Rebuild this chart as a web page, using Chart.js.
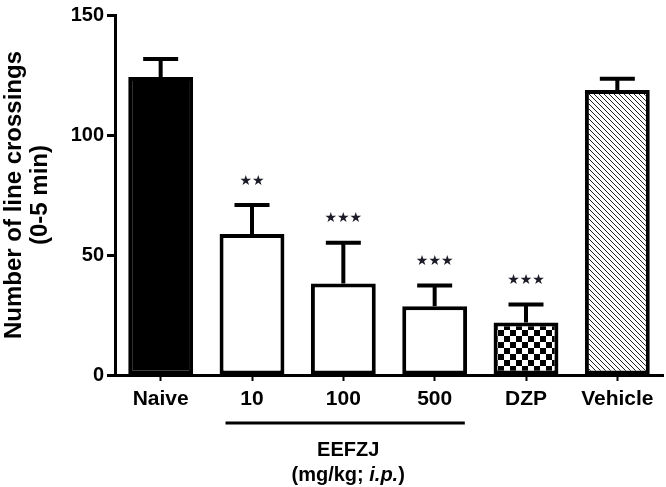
<!DOCTYPE html>
<html>
<head>
<meta charset="utf-8">
<script src="https://cdn.jsdelivr.net/npm/chart.js@4"></script>
<style>
  body { margin: 0; background: #fff; }
  canvas { display: block; }
</style>
</head>
<body>
<canvas id="crossingsChart" width="666" height="487"></canvas>
<script>
const categories = ["Naive", "10", "100", "500", "DZP", "Vehicle"];
const means = [124.2, 58.8, 38.1, 28.6, 21.9, 118.8];
const sem = [7.5, 12.0, 17.0, 8.7, 7.5, 4.6];
const stars = ["", "★★", "★★★", "★★★", "★★★", ""];
const yTicks = [0, 50, 100, 150];

const FONT = '"Liberation Sans", Arial, sans-serif';

// fill patterns for DZP (checkerboard) and Vehicle (hatched)
function checkerPattern() {
    const c = document.createElement('canvas');
    c.width = 12; c.height = 12;
    const g = c.getContext('2d');
    g.fillStyle = '#fff';
    g.fillRect(0, 0, 12, 12);
    g.fillStyle = '#000';
    g.fillRect(0, 0, 6, 6);
    g.fillRect(6, 6, 6, 6);
    return g.createPattern(c, 'repeat');
}
function hatchPattern() {
    const c = document.createElement('canvas');
    c.width = 5; c.height = 5;
    const g = c.getContext('2d');
    g.fillStyle = '#fff';
    g.fillRect(0, 0, 5, 5);
    g.strokeStyle = '#222';
    g.lineWidth = 1;
    g.beginPath();
    g.moveTo(-1, -1); g.lineTo(6, 6);
    g.moveTo(-1, 4); g.lineTo(1, 6);
    g.moveTo(4, -1); g.lineTo(6, 1);
    g.stroke();
    return g.createPattern(c, 'repeat');
}
const fills = ['#000', '#fff', '#fff', '#fff', checkerPattern(), hatchPattern()];

const extras = {
    id: 'extras',
    afterDatasetsDraw(chart) {
        const ctx = chart.ctx;
        const x = chart.scales.x, y = chart.scales.y;
        ctx.save();
        ctx.strokeStyle = '#000';
        ctx.lineWidth = 4;
        ctx.lineCap = 'butt';
        means.forEach((m, i) => {
            const cx = x.getPixelForValue(i);
            const top = y.getPixelForValue(m);
            const err = y.getPixelForValue(m + sem[i]);
            ctx.beginPath();
            ctx.moveTo(cx, top);
            ctx.lineTo(cx, err);
            ctx.moveTo(cx - 17.5, err);
            ctx.lineTo(cx + 17.5, err);
            ctx.stroke();
            if (stars[i]) {
                ctx.fillStyle = '#1c1c28';
                ctx.font = '14px "DejaVu Sans"';
                ctx.textAlign = 'center';
                ctx.textBaseline = 'middle';
                ctx.fillText(stars[i], cx, err - 24);
            }
        });
        // EEFZJ bracket under the dose groups
        const step = x.getPixelForValue(1) - x.getPixelForValue(0);
        const x1 = x.getPixelForValue(1) - step * 0.29;
        const x2 = x.getPixelForValue(3) + step * 0.33;
        const by = chart.chartArea.bottom + 48;
        ctx.lineWidth = 3;
        ctx.beginPath();
        ctx.moveTo(x1, by);
        ctx.lineTo(x2, by);
        ctx.stroke();
        const mid = (x1 + x2) / 2 + 3;
        ctx.fillStyle = '#000';
        ctx.textBaseline = 'middle';
        ctx.textAlign = 'center';
        ctx.font = 'bold 20px ' + FONT;
        ctx.fillText('EEFZJ', mid, by + 27);
        // "(mg/kg; i.p.)" with italic i.p.
        const parts = [['(mg/kg; ', 'bold'], ['i.p.', 'italic bold'], [')', 'bold']];
        let total = 0;
        parts.forEach(p => { ctx.font = p[1] + ' 20px ' + FONT; total += ctx.measureText(p[0]).width; });
        let px = mid - total / 2;
        ctx.textAlign = 'left';
        parts.forEach(p => {
            ctx.font = p[1] + ' 20px ' + FONT;
            ctx.fillText(p[0], px, by + 52);
            px += ctx.measureText(p[0]).width;
        });
        ctx.restore();
    }
};

new Chart(document.getElementById('crossingsChart'), {
    type: 'bar',
    data: {
        labels: categories,
        datasets: [{
            data: means,
            backgroundColor: fills,
            borderColor: '#000',
            borderWidth: 4,
            borderSkipped: false,
            barPercentage: 0.71,
            categoryPercentage: 1.0
        }]
    },
    options: {
        responsive: false,
        animation: false,
        layout: { padding: { top: 13, right: 3, left: 0, bottom: 0 } },
        plugins: { legend: { display: false }, tooltip: { enabled: false } },
        scales: {
            x: {
                grid: { offset: false, drawOnChartArea: false, tickLength: 6, tickWidth: 2, tickColor: '#000' },
                border: { width: 3, color: '#000' },
                ticks: { color: '#000', padding: 6, font: { family: FONT, size: 21, weight: 'bold' } },
                afterFit: s => { s.height = 112; }
            },
            y: {
                min: 0,
                max: 150,
                afterBuildTicks: s => { s.ticks = yTicks.map(v => ({ value: v })); },
                grid: { drawOnChartArea: false, tickLength: 8, tickWidth: 3, tickColor: '#000' },
                border: { width: 3, color: '#000' },
                ticks: { color: '#000', padding: 3, font: { family: FONT, size: 20, weight: 'bold' } },
                title: {
                    display: true,
                    text: ['Number of line crossings', '(0-5 min)'],
                    color: '#000',
                    padding: { top: 1, bottom: 0 },
                    font: { family: FONT, size: 24, weight: 'bold', lineHeight: 1.1 }
                },
                afterFit: s => { s.width = 115; }
            }
        }
    },
    plugins: [extras]
});
</script>
</body>
</html>
